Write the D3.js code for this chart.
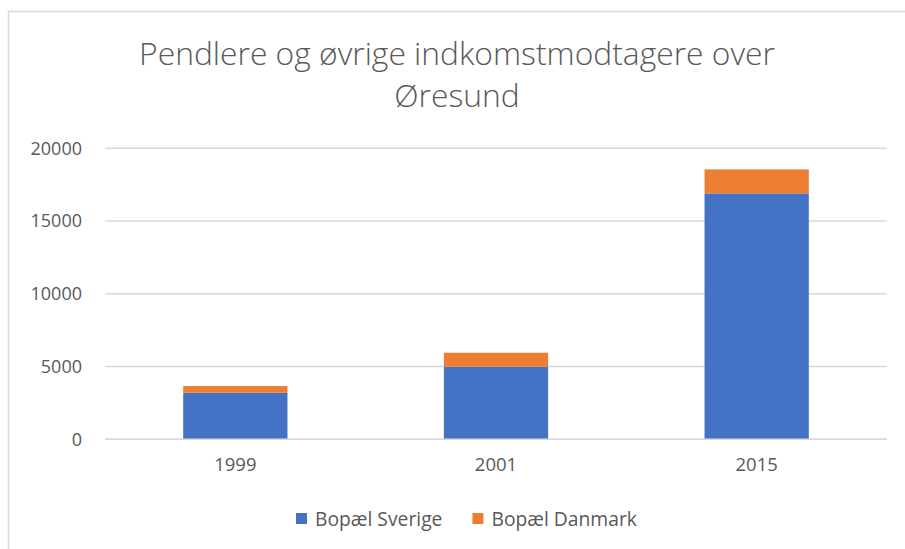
<!DOCTYPE html>
<html lang="en">
<head>
<meta charset="utf-8">
<script src="https://cdn.jsdelivr.net/npm/d3@7"></script>
<style>
    body { margin: 0; background: #fff; }
    text { font-family: "Open Sans", sans-serif; fill: #595959; }
</style>
</head>
<body>
<script>
    // chart data
    const years = ["1999", "2001", "2015"];
    const seriesNames = ["Bopæl Sverige", "Bopæl Danmark"];
    const sverige = [3200, 4990, 16900];
    const danmark = [460, 960, 1650];
    const yTicks = [0, 5000, 10000, 15000, 20000];
    const titleLines = ["Pendlere og øvrige indkomstmodtagere over", "Øresund"];
    const colors = ["#4472C4", "#ED7D31"];

    let w = 905, h = 549;
    let plotLeft = 105, plotRight = 887, plotTop = 148.3, plotBottom = 439.3;

    let svg = d3.select("body").append("svg")
        .attr("width", w)
        .attr("height", h);

    // chart area border (only left and top visible)
    svg.append("rect")
        .attr("x", 8.5).attr("y", 11.5)
        .attr("width", w + 10).attr("height", h + 10)
        .attr("fill", "none")
        .attr("stroke", "#d9d9d9")
        .attr("stroke-width", 1.5);

    // title
    svg.append("text")
        .attr("text-anchor", "middle")
        .style("font-size", "31.8px")
        .style("font-weight", 300)
        .selectAll("tspan")
        .data(titleLines)
        .join("tspan")
        .attr("x", 457)
        .attr("y", (d, i) => 64.5 + i * 42)
        .text(d => d);

    let rows = years.map((y, i) => ({ year: y, "Bopæl Sverige": sverige[i], "Bopæl Danmark": danmark[i] }));
    let stacked = d3.stack().keys(seriesNames)(rows);

    let xScale = d3.scaleBand()
        .domain(years)
        .range([plotLeft, plotRight])
        .paddingInner(0.6)
        .paddingOuter(0.3);

    let yScale = d3.scaleLinear()
        .domain([0, 20000])
        .range([plotBottom, plotTop]);

    // gridlines
    svg.append("g")
        .selectAll("line")
        .data(yTicks)
        .join("line")
        .attr("x1", plotLeft).attr("x2", plotRight)
        .attr("y1", d => yScale(d)).attr("y2", d => yScale(d))
        .attr("stroke", "#d9d9d9")
        .attr("stroke-width", 1.5);

    // y axis labels
    let yAxis = svg.append("g")
        .attr("transform", `translate(${plotLeft},0)`)
        .call(d3.axisLeft(yScale).tickValues(yTicks).tickFormat(d3.format("d")).tickSize(0).tickPadding(23));
    yAxis.select(".domain").remove();
    yAxis.selectAll("text")
        .style("font-size", "18px")
        .style("font-family", "Open Sans, sans-serif")
        .attr("fill", "#595959");

    // bars
    svg.append("g")
        .selectAll("g")
        .data(stacked)
        .join("g")
        .attr("fill", (d, i) => colors[i])
        .selectAll("rect")
        .data(d => d)
        .join("rect")
        .attr("x", d => xScale(d.data.year))
        .attr("y", d => yScale(d[1]))
        .attr("height", d => yScale(d[0]) - yScale(d[1]))
        .attr("width", xScale.bandwidth());

    // baseline
    svg.append("line")
        .attr("x1", plotLeft).attr("x2", plotRight)
        .attr("y1", plotBottom).attr("y2", plotBottom)
        .attr("stroke", "#d9d9d9")
        .attr("stroke-width", 1.5);

    // x axis labels
    let xAxis = svg.append("g")
        .attr("transform", `translate(0,${plotBottom})`)
        .call(d3.axisBottom(xScale).tickSize(0).tickPadding(19));
    xAxis.select(".domain").remove();
    xAxis.selectAll("text")
        .style("font-size", "18.5px")
        .style("font-family", "Open Sans, sans-serif")
        .attr("fill", "#595959");

    // legend
    let legend = svg.append("g");
    let lx = 296;
    seriesNames.forEach((s, i) => {
        legend.append("rect")
            .attr("x", lx).attr("y", 513)
            .attr("width", 11).attr("height", 11)
            .attr("fill", colors[i]);
        let t = legend.append("text")
            .attr("x", lx + 19).attr("y", 525.5)
            .style("font-size", "19.3px")
            .text(s);
        lx += 19 + t.node().getComputedTextLength() + 30;
    });
</script>
</body>
</html>
